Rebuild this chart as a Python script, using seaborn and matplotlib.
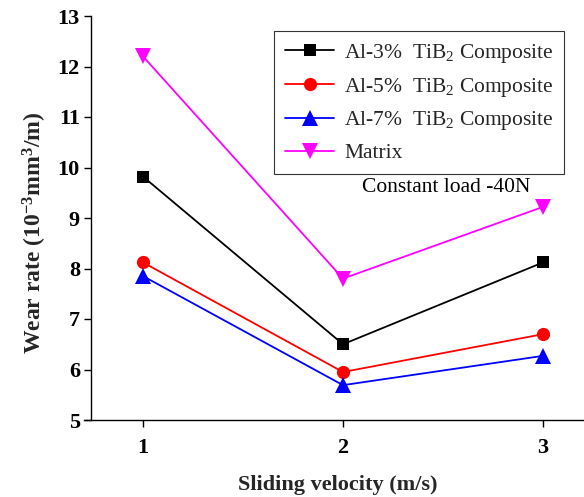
import matplotlib
matplotlib.use("Agg")
import matplotlib.pyplot as plt
import seaborn as sns
import pandas as pd

velocity = [1, 2, 3]
al3 = [9.82, 6.50, 8.12]
al5 = [8.12, 5.95, 6.70]
al7 = [7.85, 5.69, 6.27]
matrix = [12.2, 7.8, 9.22]
series_names = ["Al-3%  TiB$_2$ Composite", "Al-5%  TiB$_2$ Composite",
                "Al-7%  TiB$_2$ Composite", "Matrix"]
yticks = [5, 6, 7, 8, 9, 10, 11, 12, 13]
xticks = [1, 2, 3]

sns.set_theme(style="ticks")
plt.rcParams['font.family'] = ['Liberation Serif', 'DejaVu Serif']
plt.rcParams['mathtext.fontset'] = 'custom'
plt.rcParams['mathtext.rm'] = 'Liberation Serif'
plt.rcParams['mathtext.it'] = 'Liberation Serif:italic'
plt.rcParams['mathtext.bf'] = 'Liberation Serif:bold'

rows = []
for name, vals in zip(series_names, [al3, al5, al7, matrix]):
    for v, w in zip(velocity, vals):
        rows.append({"Sliding velocity": v, "Wear rate": w, "Series": name})
df = pd.DataFrame(rows)

palette = dict(zip(series_names, ["#000000", "#ff0000", "#0000ff", "#ff00ff"]))
markers = dict(zip(series_names, ["s", "o", "^", "v"]))

fig = plt.figure(figsize=(5.84, 4.97), dpi=100)
ax = fig.add_axes([84/584, 77/497, 508/584, 404/497])
sns.lineplot(data=df, x="Sliding velocity", y="Wear rate", hue="Series",
             style="Series", markers=markers, dashes=False, palette=palette,
             markersize=9, linewidth=1.3, markeredgewidth=0, ax=ax,
             legend=True)

msize = {"s": 9, "o": 9.5, "^": 11, "v": 11}
for ln in ax.lines:
    m = ln.get_marker()
    if m in msize:
        ln.set_markersize(msize[m])

ax.set_xlim(0.705, 3.245)
ax.set_ylim(5, 13)
ax.set_xticks(xticks)
ax.set_yticks(yticks)
ax.spines['left'].set_position(('data', 0.74))
ax.spines['top'].set_visible(False)
ax.spines['right'].set_visible(False)
for s in ['left', 'bottom']:
    ax.spines[s].set_linewidth(1.0)
    ax.spines[s].set_color('black')
ax.tick_params(axis='both', direction='out', length=5, width=1.0,
               colors='black', labelsize=16)
for lab in ax.get_xticklabels() + ax.get_yticklabels():
    lab.set_fontweight('bold')
ax.tick_params(axis='x', pad=8)
ax.tick_params(axis='y', pad=3)

ax.set_xlabel("Sliding velocity (m/s)", fontsize=16, fontweight='bold', labelpad=12)
ax.set_ylabel(r"Wear rate (10$^{\mathbf{-3}}$mm$^{\mathbf{3}}$/m)", fontsize=17,
              fontweight='bold', labelpad=6)
ax.yaxis.label.set_y(0.463)

handles, labels = ax.get_legend_handles_labels()
for h in handles:
    m = h.get_marker()
    if m in msize:
        h.set_markersize(msize[m])
leg = ax.legend(handles, labels, loc='upper left',
                bbox_to_anchor=(274/584, (497-31)/497), bbox_transform=fig.transFigure,
                frameon=True, fancybox=False, edgecolor='black', fontsize=15.5,
                handlelength=2.3, handletextpad=0.45, labelspacing=0.5,
                borderpad=0.5, borderaxespad=0)
leg.get_frame().set_linewidth(0.8)

fig.text(446/584, (497-187)/497, "Constant load -40N", fontsize=15.5,
         ha='center', va='center', color='black')

fig.savefig("out.png", dpi=100)
